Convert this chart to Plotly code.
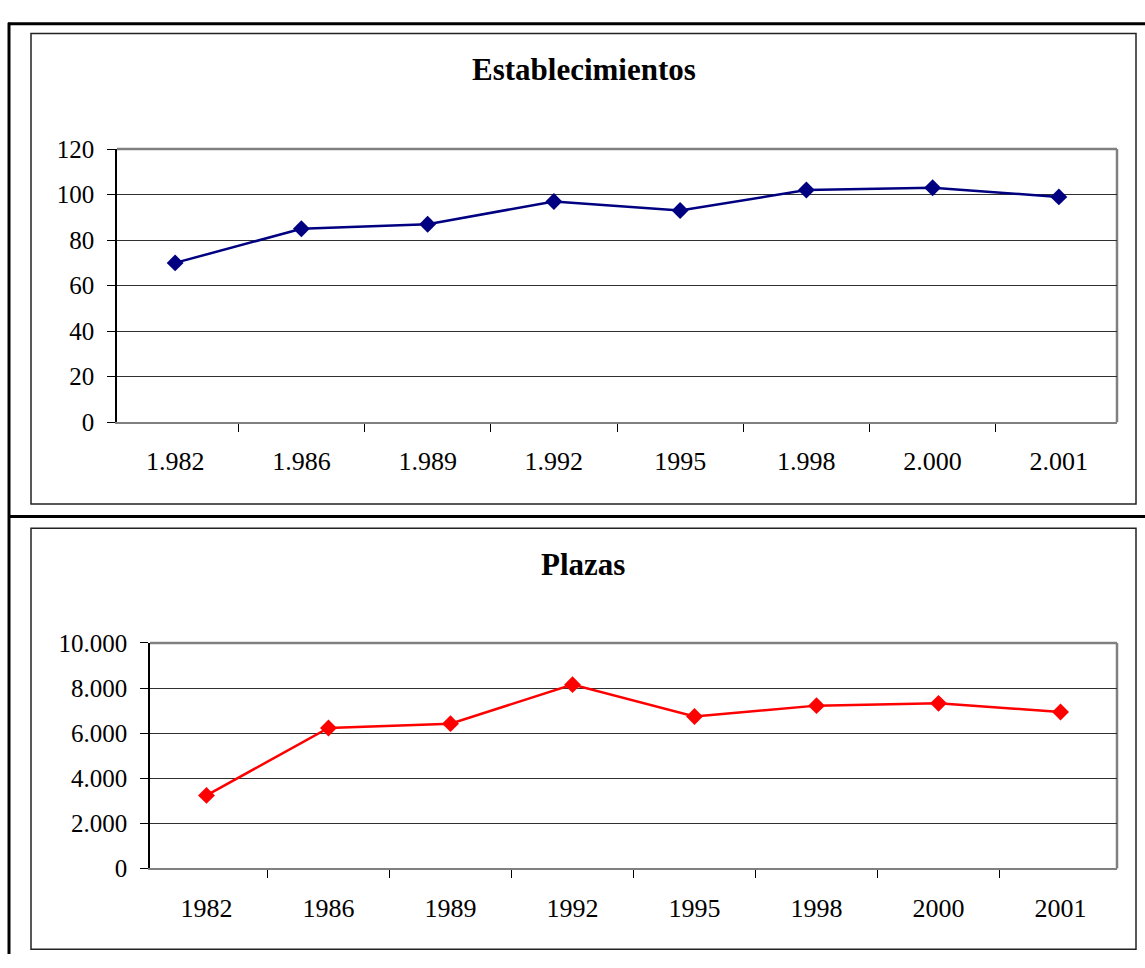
import plotly.graph_objects as go

years_top = ["1.982", "1.986", "1.989", "1.992", "1995", "1.998", "2.000", "2.001"]
years_bottom = ["1982", "1986", "1989", "1992", "1995", "1998", "2000", "2001"]
establecimientos = [70, 85, 87, 97, 93, 102, 103, 99]
plazas = [3240, 6230, 6420, 8150, 6740, 7220, 7320, 6940]

W, H = 1145, 968


def px(x):
    return x / W


def py(y):
    return 1 - y / H


FONT = "Liberation Serif, Times New Roman, serif"

fig = go.Figure()
fig.add_trace(go.Scatter(
    x=years_top, y=establecimientos, mode="lines+markers",
    line=dict(color="#000080", width=2.5),
    marker=dict(symbol="diamond", size=13, color="#000080"),
    xaxis="x", yaxis="y", showlegend=False, cliponaxis=False))
fig.add_trace(go.Scatter(
    x=years_bottom, y=plazas, mode="lines+markers",
    line=dict(color="#FF0000", width=2.5),
    marker=dict(symbol="diamond", size=13, color="#FF0000"),
    xaxis="x2", yaxis="y2", showlegend=False, cliponaxis=False))

axis_common_x = dict(
    type="category", tickson="boundaries", ticks="outside", ticklen=8,
    tickcolor="black", tickwidth=1, showline=True, linecolor="#808080",
    linewidth=2, showgrid=False, zeroline=False,
    tickfont=dict(family=FONT, size=26, color="black"), ticklabelstandoff=15)
axis_common_y = dict(
    ticks="outside", ticklen=8, tickcolor="black", tickwidth=1,
    showline=True, linecolor="black", linewidth=1.5, showgrid=True,
    gridcolor="#303030", gridwidth=1, zeroline=False,
    tickfont=dict(family=FONT, size=25, color="black"), ticklabelstandoff=8)

# plot areas: top x 117..1117, y 140..421 ; bottom x 150..1117, y 648..880
fig.update_layout(
    xaxis=dict(domain=[px(117), px(1117)], anchor="y", **axis_common_x),
    yaxis=dict(domain=[py(421), py(140)], anchor="x", range=[0, 120],
               tick0=0, dtick=20, **axis_common_y),
    xaxis2=dict(domain=[px(150), px(1117)], anchor="y2", **axis_common_x),
    yaxis2=dict(domain=[py(880), py(648)], anchor="x2", range=[0, 10000],
                tick0=0, dtick=2000, tickformat=",d", **axis_common_y),
)

shapes = []
# plot-area grey borders (top and right)
for (l, t, r, b) in [(117, 140, 1117, 421), (150, 648, 1117, 880)]:
    shapes.append(dict(type="line", xref="paper", yref="paper",
                       x0=px(l), x1=px(r), y0=py(t), y1=py(t),
                       line=dict(color="#808080", width=2.5), layer="between"))
    shapes.append(dict(type="line", xref="paper", yref="paper",
                       x0=px(r), x1=px(r), y0=py(t), y1=py(b),
                       line=dict(color="#808080", width=2.5), layer="between"))
# inner chart boxes
for (l, t, r, b) in [(31, 21, 1136, 505), (31, 530, 1136, 963)]:
    shapes.append(dict(type="rect", xref="paper", yref="paper",
                       x0=px(l), x1=px(r), y0=py(b), y1=py(t),
                       line=dict(color="#222222", width=1.5), layer="below"))
# outer thick frame lines
shapes.append(dict(type="line", xref="paper", yref="paper",
                   x0=px(8), x1=1, y0=py(11), y1=py(11),
                   line=dict(color="black", width=3)))
shapes.append(dict(type="line", xref="paper", yref="paper",
                   x0=px(8), x1=1, y0=py(518), y1=py(518),
                   line=dict(color="black", width=3)))
shapes.append(dict(type="line", xref="paper", yref="paper",
                   x0=px(9), x1=px(9), y0=py(10), y1=0,
                   line=dict(color="black", width=3)))

annotations = [
    dict(text="<b>Establecimientos</b>", x=px(584), y=py(58), xref="paper",
         yref="paper", showarrow=False, xanchor="center", yanchor="middle",
         font=dict(family=FONT, size=31, color="black")),
    dict(text="<b>Plazas</b>", x=px(583), y=py(567), xref="paper",
         yref="paper", showarrow=False, xanchor="center", yanchor="middle",
         font=dict(family=FONT, size=31, color="black")),
]

fig.update_layout(
    width=W, height=H, margin=dict(l=0, r=0, t=0, b=0),
    paper_bgcolor="white", plot_bgcolor="white",
    separators=",.", shapes=shapes, annotations=annotations,
    font=dict(family=FONT, color="black"),
)

post = (
    "var gd=document.getElementById('{plot_id}');"
    "document.documentElement.style.margin='0';"
    "document.body.style.margin='0';"
    "document.body.style.padding='0';"
    "document.documentElement.style.overflow='hidden';"
    "gd.style.position='fixed';gd.style.top='0px';gd.style.left='0px';"
)

fig.write_html(
    "out.html",
    config={"displayModeBar": False, "responsive": False},
    post_script=post,
)
